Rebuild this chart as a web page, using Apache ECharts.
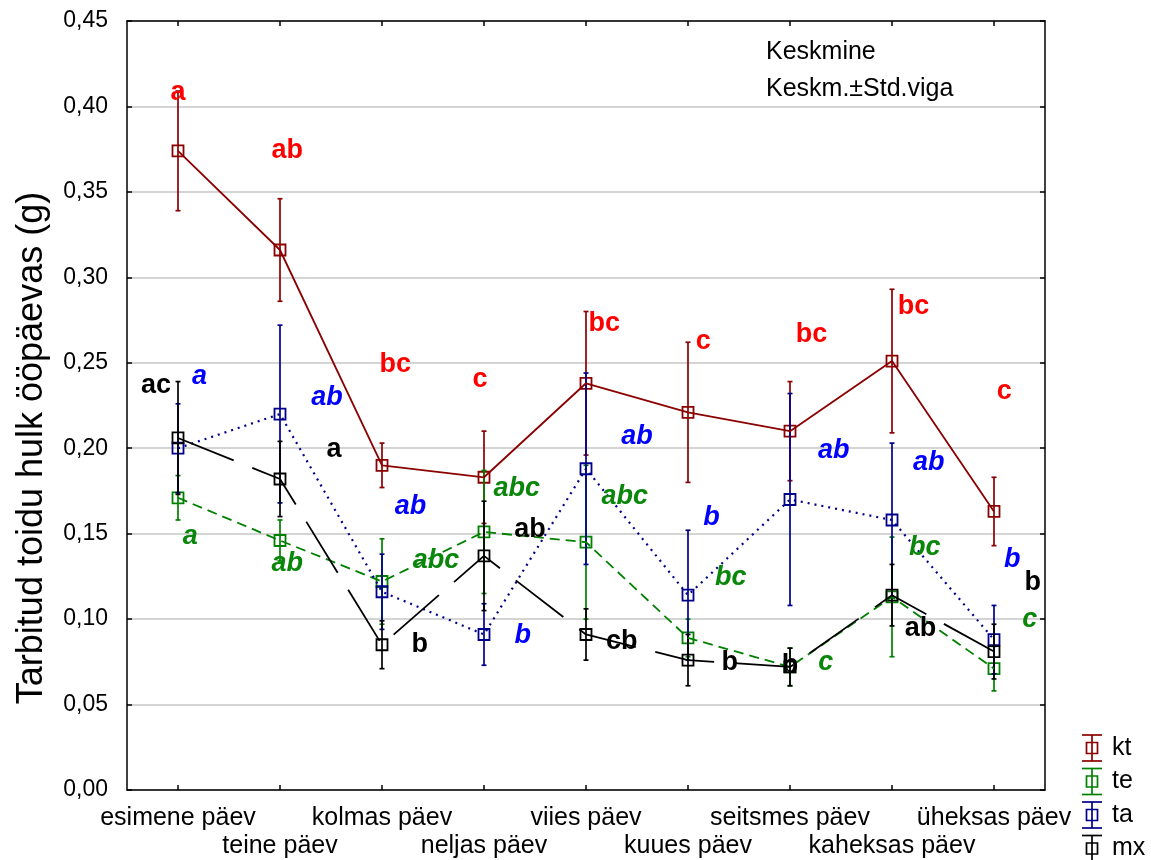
<!DOCTYPE html>
<html>
<head>
<meta charset="utf-8">
<script src="https://cdn.jsdelivr.net/npm/echarts@6/dist/echarts.min.js"></script>
<style>
  html, body { margin: 0; padding: 0; background: #fff; }
  #chart { width: 1151px; height: 860px; }
</style>
</head>
<body>
<div id="chart"></div>
<script>
// Days of the trial
const categories = ['esimene päev', 'teine päev', 'kolmas päev', 'neljas päev', 'viies päev',
  'kuues päev', 'seitsmes päev', 'kaheksas päev', 'üheksas päev'];

// Mean daily food intake (g) and standard error per group
const ktMean = [0.374, 0.316, 0.190, 0.183, 0.238, 0.221, 0.210, 0.251, 0.163];
const ktSe   = [0.035, 0.030, 0.013, 0.027, 0.042, 0.041, 0.029, 0.042, 0.020];
const teMean = [0.171, 0.146, 0.122, 0.151, 0.145, 0.089, 0.072, 0.113, 0.071];
const teSe   = [0.013, 0.012, 0.025, 0.036, 0.045, 0.011, 0.011, 0.035, 0.013];
const taMean = [0.200, 0.220, 0.116, 0.091, 0.188, 0.114, 0.170, 0.158, 0.088];
const taSe   = [0.026, 0.052, 0.022, 0.018, 0.056, 0.038, 0.062, 0.045, 0.020];
const mxMean = [0.206, 0.182, 0.085, 0.137, 0.091, 0.076, 0.072, 0.114, 0.081];
const mxSe   = [0.033, 0.022, 0.014, 0.032, 0.015, 0.015, 0.011, 0.018, 0.016];

// Significance letters: [position along days, value, text]
const ktLetters = [[0.0, 0.408, 'a'], [1.07, 0.374, 'ab'], [2.13, 0.249, 'bc'], [2.96, 0.240, 'c'],
  [4.18, 0.273, 'bc'], [5.15, 0.2625, 'c'], [6.21, 0.2666, 'bc'], [7.21, 0.283, 'bc'], [8.10, 0.2332, 'c']];
const taLetters = [[0.21, 0.242, 'a'], [1.46, 0.2297, 'ab'], [2.28, 0.1658, 'ab'], [3.38, 0.0902, 'b'],
  [4.50, 0.2068, 'ab'], [5.23, 0.1594, 'b'], [6.43, 0.1986, 'ab'], [7.36, 0.1916, 'ab'], [8.18, 0.1348, 'b']];
const teLetters = [[0.12, 0.1482, 'a'], [1.07, 0.1324, 'ab'], [2.53, 0.1342, 'abc'], [3.32, 0.1764, 'abc'],
  [4.38, 0.1717, 'abc'], [5.42, 0.1242, 'bc'], [6.35, 0.0744, 'c'], [7.32, 0.1418, 'bc'], [8.35, 0.0996, 'c']];
const mxLetters = [[-0.215, 0.2367, 'ac'], [1.53, 0.1992, 'a'], [2.37, 0.085, 'b'], [3.45, 0.1523, 'ab'],
  [4.35, 0.0867, 'cb'], [5.41, 0.0744, 'b'], [6.0, 0.0727, 'b'], [7.28, 0.0943, 'ab'], [8.38, 0.1213, 'b']];

const yTicks = { min: 0, max: 0.45, interval: 0.05 };
const yTitle = 'Tarbitud toidu hulk ööpäevas (g)';

const FONT = 'Liberation Sans, Arial, sans-serif';

const groups = [
  { name: 'kt', mean: ktMean, se: ktSe, color: '#8b0000', dash: 'solid', letters: ktLetters, letterColor: '#ff0000', italic: false },
  { name: 'te', mean: teMean, se: teSe, color: '#008000', dash: [10, 6], letters: teLetters, letterColor: '#0a870a', italic: true },
  { name: 'ta', mean: taMean, se: taSe, color: '#00008b', dash: [2, 5], letters: taLetters, letterColor: '#0000ff', italic: true },
  { name: 'mx', mean: mxMean, se: mxSe, color: '#000000', dash: [60, 20], letters: mxLetters, letterColor: '#000000', italic: false }
];

function errorBarRenderer(color) {
  return function (params, api) {
    const i = api.value(0);
    const m = api.value(1);
    const s = api.value(2);
    const c = api.coord([i, m]);
    const hi = api.coord([i, m + s]);
    const lo = api.coord([i, m - s]);
    const cap = 2.5, half = 5.5;
    const st = { stroke: color, lineWidth: 1.7, fill: null };
    return {
      type: 'group',
      children: [
        { type: 'line', shape: { x1: c[0], y1: hi[1], x2: c[0], y2: lo[1] }, style: st },
        { type: 'line', shape: { x1: c[0] - cap, y1: hi[1], x2: c[0] + cap, y2: hi[1] }, style: st },
        { type: 'line', shape: { x1: c[0] - cap, y1: lo[1], x2: c[0] + cap, y2: lo[1] }, style: st },
        { type: 'rect', shape: { x: c[0] - half, y: c[1] - half, width: 2 * half, height: 2 * half },
          style: { stroke: color, lineWidth: 1.8, fill: null } }
      ]
    };
  };
}

const series = [];
groups.forEach(function (g) {
  series.push({
    type: 'line', name: g.name, xAxisIndex: 0, yAxisIndex: 0,
    data: g.mean, symbol: 'none', silent: true, animation: false,
    lineStyle: { color: g.color, width: g.name === 'ta' ? 2.2 : 1.8, type: g.dash }
  });
  series.push({
    type: 'custom', name: g.name + ' viga', xAxisIndex: 0, yAxisIndex: 0,
    data: g.mean.map(function (m, i) { return [i, m, g.se[i]]; }),
    encode: { x: 0, y: 1 },
    renderItem: errorBarRenderer(g.color), animation: false, z: 3
  });
});
groups.forEach(function (g) {
  series.push({
    type: 'scatter', name: g.name + ' tähed', xAxisIndex: 2, yAxisIndex: 0,
    symbolSize: 0, animation: false, silent: true, z: 5,
    itemStyle: { opacity: 1 },
    data: g.letters.map(function (d) { return { value: [d[0], d[1]], name: d[2] }; }),
    label: {
      show: true, position: 'inside', opacity: 1, formatter: function (p) { return p.name; },
      color: g.letterColor, fontFamily: FONT, fontSize: 27, fontWeight: 'bold',
      fontStyle: g.italic ? 'italic' : 'normal'
    }
  });
});

// Legend drawn as error-bar glyphs with names
const legendGraphics = [];
groups.forEach(function (g, k) {
  const cy = 748 + k * 33.5, cx = 1092;
  const st = { stroke: g.color, lineWidth: 1.7, fill: null };
  legendGraphics.push({
    type: 'group', children: [
      { type: 'line', shape: { x1: cx, y1: cy - 13, x2: cx, y2: cy + 13 }, style: st },
      { type: 'line', shape: { x1: cx - 10, y1: cy - 13, x2: cx + 10, y2: cy - 13 }, style: st },
      { type: 'line', shape: { x1: cx - 10, y1: cy + 13, x2: cx + 10, y2: cy + 13 }, style: st },
      { type: 'rect', shape: { x: cx - 5.5, y: cy - 5.5, width: 11, height: 11 }, style: st },
      { type: 'text', x: 1112, y: cy, style: { text: g.name, fill: '#000', font: '25px ' + FONT, textVerticalAlign: 'middle' } }
    ]
  });
});

const chart = echarts.init(document.getElementById('chart'), null, { renderer: 'canvas' });
chart.setOption({
  backgroundColor: '#ffffff',
  animation: false,
  grid: { left: 127, right: 106, top: 21, bottom: 70, containLabel: false, outerBoundsMode: 'none' },
  xAxis: [
    {
      type: 'category', position: 'bottom', data: categories, boundaryGap: true,
      axisLine: { onZero: false, lineStyle: { color: '#000', width: 1.5 } },
      axisTick: { show: true, inside: true, length: 5, alignWithLabel: true, interval: 0, lineStyle: { color: '#000', width: 1.5 } },
      axisLabel: {
        interval: 0, margin: 14, color: '#000', fontFamily: FONT, fontSize: 25, lineHeight: 28,
        formatter: function (v, i) { return i % 2 ? '\n' + v : v; }
      },
      splitLine: { show: false }
    },
    {
      type: 'category', position: 'top', data: categories, boundaryGap: true,
      axisLine: { onZero: false, lineStyle: { color: '#000', width: 1.5 } },
      axisTick: { show: true, inside: true, length: 5, alignWithLabel: true, interval: 0, lineStyle: { color: '#000', width: 1.5 } },
      axisLabel: { show: false }, splitLine: { show: false }
    },
    { type: 'value', min: -0.5, max: 8.5, show: false }
  ],
  yAxis: [
    {
      type: 'value', position: 'left', min: yTicks.min, max: yTicks.max, interval: yTicks.interval,
      axisLine: { show: true, onZero: false, lineStyle: { color: '#000', width: 1.5 } },
      axisTick: { show: true, inside: true, length: 5, lineStyle: { color: '#000', width: 1.5 } },
      axisLabel: { color: '#000', fontFamily: FONT, fontSize: 23, margin: 19,
        formatter: function (v) { return v.toFixed(2).replace('.', ','); } },
      splitLine: { show: true, lineStyle: { color: '#d4d4d4', width: 2 } }
    },
    {
      type: 'value', position: 'right', min: yTicks.min, max: yTicks.max, interval: yTicks.interval,
      axisLine: { show: true, onZero: false, lineStyle: { color: '#000', width: 1.5 } },
      axisTick: { show: true, inside: true, length: 5, lineStyle: { color: '#000', width: 1.5 } },
      axisLabel: { show: false }, splitLine: { show: false }
    }
  ],
  graphic: [
    { type: 'text', x: 32, y: 448, rotation: Math.PI / 2,
      style: { text: yTitle, fill: '#000', font: '36px ' + FONT, textAlign: 'center', textVerticalAlign: 'middle' } },
    { type: 'text', x: 766, y: 52, style: { text: 'Keskmine', fill: '#000', font: '25px ' + FONT, textVerticalAlign: 'middle' } },
    { type: 'text', x: 766, y: 89, style: { text: 'Keskm.±Std.viga', fill: '#000', font: '25px ' + FONT, textVerticalAlign: 'middle' } }
  ].concat(legendGraphics),
  series: series
});
</script>
</body>
</html>
